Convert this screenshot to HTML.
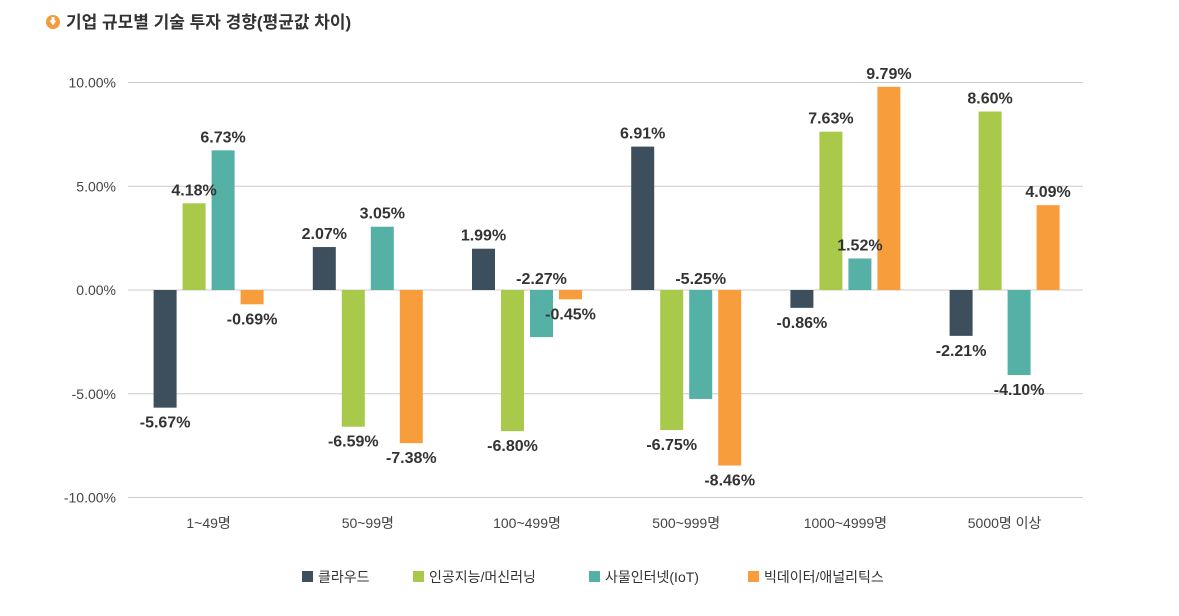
<!DOCTYPE html>
<html><head><meta charset="utf-8"><style>
body{margin:0;background:#fff;font-family:"Liberation Sans","Noto Sans CJK KR",sans-serif;}
svg text{font-family:"Liberation Sans","Noto Sans CJK KR",sans-serif;}
</style></head><body>
<svg id="c" width="1179" height="611" viewBox="0 0 1179 611">
<g>
<circle cx="53" cy="22" r="7" fill="#f39a3b"/>
<path d="M49.5 20.5 L56.5 20.5 L53 25.5 Z M51.5 17 h3 v4 h-3z" fill="#fff"/>
<text x="66" y="28" font-size="17" font-weight="bold" fill="#333">기업 규모별 기술 투자 경향(평균값 차이)</text>
</g>
<g id="grid"></g><g id="bars"></g><g id="labels"></g>
<g id="legend"></g>
</svg>
<script>
const categories=["1~49명","50~99명","100~499명","500~999명","1000~4999명","5000명 이상"];
const seriesNames=["클라우드","인공지능/머신러닝","사물인터넷(IoT)","빅데이터/애널리틱스"];
const cloud=[-5.67,2.07,1.99,6.91,-0.86,-2.21];
const ai=[4.18,-6.59,-6.80,-6.75,7.63,8.60];
const iot=[6.73,3.05,-2.27,-5.25,1.52,-4.10];
const bigdata=[-0.69,-7.38,-0.45,-8.46,9.79,4.09];
const ticks=[10,5,0,-5,-10];
const tickLabels=["10.00%","5.00%","0.00%","-5.00%","-10.00%"];
const colors=["#3d4f5c","#a8c94a","#55b0a6","#f79d3c"];
const series=[cloud,ai,iot,bigdata];
const labelAboveZero=["2-2","2-3"];
const NS="http://www.w3.org/2000/svg";
const y=v=>290-v*20.75;
const x0=129,gw=159.2;
const gx=i=>x0+gw*(i+0.5);
function mk(t,a,p){const e=document.createElementNS(NS,t);for(const k in a)e.setAttribute(k,a[k]);document.getElementById(p).appendChild(e);return e;}
ticks.forEach((t,i)=>{
 const l=mk("line",{x1:128,x2:1083,y1:y(t),y2:y(t),stroke:"#ccc","stroke-width":1},"grid");
 
 
 const tx=mk("text",{x:116,y:y(t)+5,"text-anchor":"end","font-size":14,fill:"#444"},"grid");
 tx.textContent=tickLabels[i];
 
 
});
categories.forEach((c,i)=>{
 const tx=mk("text",{x:gx(i),y:528,"text-anchor":"middle","font-size":14,fill:"#444"},"grid");
 tx.textContent=c;
 
 
 series.forEach((s,j)=>{
  const v=s[i];const cx=gx(i)+(j-1.5)*29;
  const r=mk("rect",{x:cx-11.5,width:23,y:Math.min(y(v),y(0)),height:Math.abs(y(v)-y(0)),fill:colors[j]},"bars");
  
  
  let ly=v>=0?y(v)-8:y(v)+20;
  if(labelAboveZero.includes(j+"-"+i)) ly=y(0)-6;
  const lt=mk("text",{x:cx,y:ly,"text-anchor":"middle","font-size":16,"font-weight":"bold",fill:"#333"},"labels");
  lt.textContent=v.toFixed(2)+"%";
  
  
 });
});
const lx=[307,418,594,753];
seriesNames.forEach((n,j)=>{
 const r=mk("rect",{x:lx[j]-5,y:571,width:11,height:11,fill:colors[j]},"legend");
 
 
 const t=mk("text",{x:lx[j]+11,y:582,"font-size":14,fill:"#333"},"legend");
 t.textContent=n;
 
 
});
</script>
</body></html>
